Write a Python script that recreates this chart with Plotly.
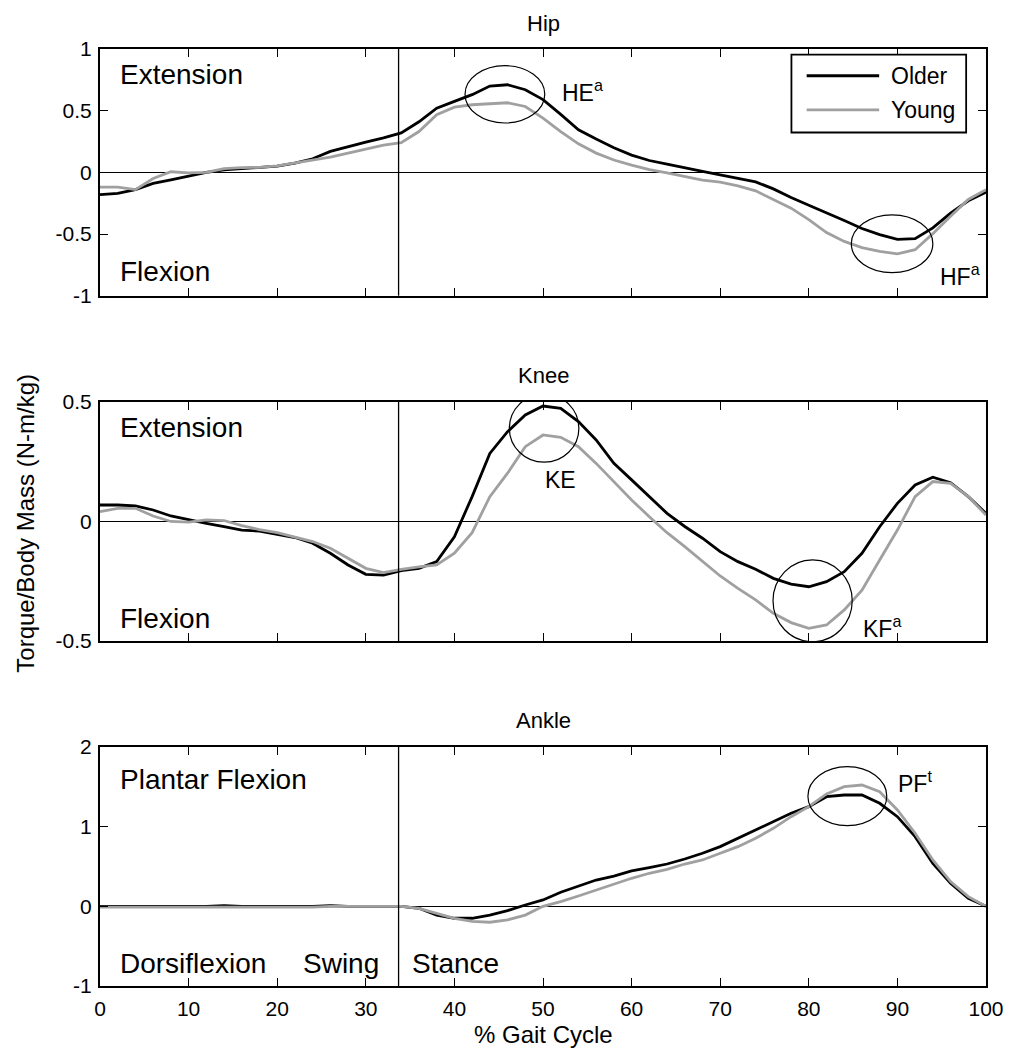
import plotly.graph_objects as go

# ---------------- data ----------------
gait_pct = list(range(0, 101, 2))

hip_older = [-0.18, -0.17, -0.14, -0.09, -0.06, -0.03, 0.00, 0.02, 0.03, 0.04,
             0.05, 0.075, 0.11, 0.17, 0.21, 0.245, 0.28, 0.32, 0.41, 0.52,
             0.575, 0.63, 0.70, 0.71, 0.67, 0.59, 0.47, 0.345, 0.27, 0.20,
             0.14, 0.096, 0.066, 0.034, 0.008, -0.02, -0.05, -0.077, -0.134, -0.204,
             -0.266, -0.325, -0.39, -0.455, -0.505, -0.543, -0.538, -0.45, -0.33, -0.23,
             -0.16]
hip_young = [-0.12, -0.12, -0.14, -0.05, 0.005, -0.004, 0.0, 0.03, 0.038, 0.04,
             0.053, 0.075, 0.096, 0.123, 0.156, 0.188, 0.22, 0.24, 0.331, 0.467,
             0.529, 0.548, 0.553, 0.564, 0.534, 0.44, 0.331, 0.231, 0.156, 0.10,
             0.058, 0.023, -0.005, -0.035, -0.063, -0.08, -0.11, -0.15, -0.218, -0.29,
             -0.383, -0.488, -0.56, -0.61, -0.64, -0.66, -0.627, -0.497, -0.356, -0.22,
             -0.14]

knee_older = [0.069, 0.069, 0.065, 0.048, 0.023, 0.006, -0.008, -0.022, -0.036, -0.04,
              -0.053, -0.067, -0.091, -0.133, -0.182, -0.221, -0.224, -0.206, -0.196, -0.168,
              -0.064, 0.104, 0.285, 0.376, 0.446, 0.483, 0.473, 0.418, 0.341, 0.243,
              0.174, 0.104, 0.034, -0.021, -0.07, -0.126, -0.168, -0.20, -0.238, -0.262,
              -0.273, -0.252, -0.21, -0.133, -0.022, 0.076, 0.153, 0.185, 0.162, 0.104,
              0.034]
knee_young = [0.041, 0.055, 0.055, 0.023, 0.0, -0.003, 0.007, 0.004, -0.017, -0.034,
              -0.047, -0.067, -0.084, -0.112, -0.154, -0.196, -0.214, -0.20, -0.19, -0.182,
              -0.133, -0.047, 0.104, 0.202, 0.313, 0.362, 0.352, 0.313, 0.243, 0.167,
              0.09, 0.02, -0.047, -0.105, -0.168, -0.228, -0.28, -0.328, -0.384, -0.423,
              -0.447, -0.433, -0.37, -0.287, -0.161, -0.036, 0.104, 0.167, 0.16, 0.104,
              0.027]

ankle_older = [0.0, 0.0, 0.0, 0.0, 0.0, 0.0, 0.0, 0.01, 0.0, 0.0,
               0.0, 0.0, 0.0, 0.01, 0.0, 0.0, 0.0, 0.0, -0.025, -0.11,
               -0.15, -0.15, -0.11, -0.054, 0.017, 0.08, 0.176, 0.255, 0.33, 0.38,
               0.444, 0.485, 0.531, 0.594, 0.666, 0.749, 0.854, 0.95, 1.063, 1.168,
               1.251, 1.376, 1.397, 1.397, 1.293, 1.125, 0.874, 0.54, 0.289, 0.101,
               0.0]
ankle_young = [-0.01, -0.01, -0.01, -0.01, -0.01, -0.01, -0.01, -0.01, -0.01, -0.01,
               -0.01, -0.01, -0.01, 0.0, 0.0, 0.0, 0.0, 0.0, -0.025, -0.09,
               -0.15, -0.19, -0.20, -0.17, -0.11, 0.0, 0.058, 0.13, 0.205, 0.28,
               0.352, 0.415, 0.465, 0.531, 0.582, 0.666, 0.749, 0.854, 0.979, 1.125,
               1.251, 1.41, 1.502, 1.523, 1.439, 1.209, 0.917, 0.582, 0.31, 0.121,
               0.0]

series_names = ["Older", "Young"]
series_colors = ["#000000", "#a0a0a0"]
joint_titles = ["Hip", "Knee", "Ankle"]

x_ticks = [0, 10, 20, 30, 40, 50, 60, 70, 80, 90, 100]
x_ticklabels = ["0", "10", "20", "30", "40", "50", "60", "70", "80", "90", "100"]
hip_yticks = [-1, -0.5, 0, 0.5, 1]
hip_yticklabels = ["-1", "-0.5", "0", "0.5", "1"]
knee_yticks = [-0.5, 0, 0.5]
knee_yticklabels = ["-0.5", "0", "0.5"]
ankle_yticks = [-1, 0, 1, 2]
ankle_yticklabels = ["-1", "0", "1", "2"]

stance_start = 33.7

FONT = "Liberation Sans, Arial, Helvetica, sans-serif"

fig = go.Figure()

joints = [
    ("x", "y", hip_older, hip_young),
    ("x2", "y2", knee_older, knee_young),
    ("x3", "y3", ankle_older, ankle_young),
]
for xa, ya, older, young in joints:
    for name, color, vals in zip(series_names, series_colors, [older, young]):
        fig.add_trace(go.Scatter(
            x=gait_pct, y=vals, mode="lines", name=name,
            line=dict(color=color, width=2.8), showlegend=False,
            xaxis=xa, yaxis=ya))

axis_common = dict(showline=True, linecolor="black", linewidth=2, mirror="ticks",
                   ticks="inside", ticklen=8, tickwidth=1.3, tickcolor="black",
                   showgrid=False, tickfont=dict(family=FONT, size=21, color="black"))

fig.update_layout(
    width=1016, height=1053,
    margin=dict(l=100, r=23, t=49, b=67),
    paper_bgcolor="white", plot_bgcolor="white",
    font=dict(family=FONT, color="black"),
    showlegend=False,
    xaxis=dict(domain=[0, 1], anchor="y", range=[0, 100], tickvals=x_ticks,
               showticklabels=False, zeroline=False, **axis_common),
    xaxis2=dict(domain=[0, 1], anchor="y2", range=[0, 100], tickvals=x_ticks,
                showticklabels=False, zeroline=False, **axis_common),
    xaxis3=dict(domain=[0, 1], anchor="y3", range=[0, 100], tickvals=x_ticks,
                ticktext=x_ticklabels, zeroline=False, ticklabelstandoff=3, **axis_common),
    yaxis=dict(domain=[0.7367, 1.0], anchor="x", range=[-1, 1], tickvals=hip_yticks,
               ticktext=hip_yticklabels, zeroline=True, zerolinecolor="black",
               zerolinewidth=1.3, ticklabelstandoff=2, **axis_common),
    yaxis2=dict(domain=[0.3682, 0.6233], anchor="x2", range=[-0.5, 0.5], tickvals=knee_yticks,
                ticktext=knee_yticklabels, zeroline=True, zerolinecolor="black",
                zerolinewidth=1.3, ticklabelstandoff=2, **axis_common),
    yaxis3=dict(domain=[0.0, 0.2551], anchor="x3", range=[-1, 2], tickvals=ankle_yticks,
                ticktext=ankle_yticklabels, zeroline=True, zerolinecolor="black",
                zerolinewidth=1.3, ticklabelstandoff=2, **axis_common),
)

shapes = []
annotations = []
# stance/swing divider and subplot titles
for i, (xa, ya) in enumerate([("x", "y"), ("x2", "y2"), ("x3", "y3")]):
    shapes.append(dict(type="line", xref=xa, yref=f"{ya} domain", x0=stance_start, x1=stance_start,
                       y0=0, y1=1, line=dict(color="black", width=1.3)))
    annotations.append(dict(text=joint_titles[i], xref=f"{xa} domain", yref=f"{ya} domain",
                            x=0.5, y=1, yshift=26, xanchor="center", yanchor="middle",
                            showarrow=False, font=dict(size=22)))

# ellipses marking peaks
ellipses = [
    ("x", "y", 41.2, 50.2, 0.40, 0.865),
    ("x", "y", 84.8, 94.0, -0.813, -0.345),
    ("x2", "y2", 46.2, 54.05, 0.248, 0.533),
    ("x2", "y2", 75.96, 84.9, -0.503, -0.161),
    ("x3", "y3", 79.9, 88.8, 1.012, 1.753),
]
for xa, ya, x0, x1, y0, y1 in ellipses:
    shapes.append(dict(type="circle", xref=xa, yref=ya, x0=x0, x1=x1, y0=y0, y1=y1,
                       line=dict(color="black", width=1.2)))

# peak labels
peak_labels = [
    ("x", "y", 51.9, 0.66, "HE<sup>a</sup>", "left"),
    ("x", "y", 99.6, -0.83, "HF<sup>a</sup>", "right"),
    ("x2", "y2", 50.0, 0.174, "KE", "left"),
    ("x2", "y2", 85.85, -0.44, "KF<sup>a</sup>", "left"),
    ("x3", "y3", 89.85, 1.56, "PF<sup>t</sup>", "left"),
]
for xa, ya, x, y, t, anc in peak_labels:
    annotations.append(dict(text=t, xref=xa, yref=ya, x=x, y=y, xanchor=anc, yanchor="middle",
                            showarrow=False, font=dict(size=23)))

# region labels
region_labels = [
    ("x", "y", 2.05, 0.79, "Extension", "left"),
    ("x", "y", 2.05, -0.805, "Flexion", "left"),
    ("x2", "y2", 2.05, 0.392, "Extension", "left"),
    ("x2", "y2", 2.05, -0.405, "Flexion", "left"),
    ("x3", "y3", 2.05, 1.594, "Plantar Flexion", "left"),
    ("x3", "y3", 2.05, -0.715, "Dorsiflexion", "left"),
    ("x3", "y3", 31.7, -0.715, "Swing", "right"),
    ("x3", "y3", 35.0, -0.715, "Stance", "left"),
]
for xa, ya, x, y, t, anc in region_labels:
    annotations.append(dict(text=t, xref=xa, yref=ya, x=x, y=y, xanchor=anc, yanchor="middle",
                            showarrow=False, font=dict(size=28)))

# legend box (top subplot)
shapes.append(dict(type="rect", xref="x", yref="y", x0=78.04, x1=97.76, y0=0.323, y1=0.954,
                   line=dict(color="black", width=1.8), fillcolor="white", layer="above"))
legend_rows = [0.783, 0.507]
for name, color, ly in zip(series_names, series_colors, legend_rows):
    shapes.append(dict(type="line", xref="x", yref="y", x0=79.76, x1=87.94, y0=ly, y1=ly,
                       line=dict(color=color, width=2.8), layer="above"))
    annotations.append(dict(text=name, xref="x", yref="y", x=89.06, y=ly, xanchor="left",
                            yanchor="middle", showarrow=False, font=dict(size=23)))

# axis titles
annotations.append(dict(text="Torque/Body Mass (N-m/kg)", xref="paper", yref="paper",
                        x=-0.084, y=0.494, xanchor="center", yanchor="middle", textangle=-90,
                        showarrow=False, font=dict(size=24)))
annotations.append(dict(text="% Gait Cycle", xref="paper", yref="paper",
                        x=0.5, y=-0.0522, xanchor="center", yanchor="middle",
                        showarrow=False, font=dict(size=24)))

fig.update_layout(shapes=shapes, annotations=annotations)

# remove the default page margin so the figure fills the browser window exactly
page_fix = ("document.documentElement.style.margin='0';document.body.style.margin='0';"
            "document.body.style.padding='0';document.body.style.overflow='hidden';"
            "document.documentElement.style.overflow='hidden';")
fig.write_html("out.html", post_script=page_fix, config={"displayModeBar": False})
